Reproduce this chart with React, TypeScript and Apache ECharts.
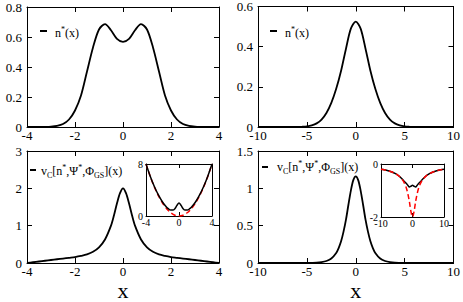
import React, { useEffect, useRef } from "react";
import * as echarts from "echarts";

const FONT = "'Liberation Serif', 'Times New Roman', Times, serif";

// Top-left: n*(x)
const tlX = [-4, -3.75, -3.5, -3.25, -3, -2.75, -2.5, -2.25, -2, -1.75, -1.5, -1.25, -1, -0.75, -0.5, -0.25, 0, 0.25, 0.5, 0.75, 1, 1.25, 1.5, 1.75, 2, 2.25, 2.5, 2.75, 3, 3.25, 3.5, 3.75, 4];
const tlN = [0, 0, 0, 0.001, 0.003, 0.008, 0.02, 0.05, 0.11, 0.21, 0.37, 0.53, 0.65, 0.686, 0.645, 0.588, 0.568, 0.588, 0.645, 0.686, 0.65, 0.53, 0.37, 0.21, 0.11, 0.05, 0.02, 0.008, 0.003, 0.001, 0, 0, 0];

// Top-right: n*(x)
const trX = [-10, -8, -6.5, -6, -5.5, -5, -4.5, -4, -3.5, -3, -2.5, -2, -1.5, -1, -0.5, 0, 0.5, 1, 1.5, 2, 2.5, 3, 3.5, 4, 4.5, 5, 5.5, 6, 6.5, 8, 10];
const trN = [0, 0, 0, 0, 0.001, 0.003, 0.008, 0.018, 0.037, 0.07, 0.12, 0.19, 0.28, 0.39, 0.49, 0.525, 0.49, 0.39, 0.28, 0.19, 0.12, 0.07, 0.037, 0.018, 0.008, 0.003, 0.001, 0, 0, 0, 0];

// Bottom-left: v_C
const blX = [-4, -3.75, -3.5, -3.25, -3, -2.75, -2.5, -2.25, -2, -1.75, -1.5, -1.25, -1, -0.75, -0.5, -0.375, -0.25, -0.125, 0, 0.125, 0.25, 0.375, 0.5, 0.75, 1, 1.25, 1.5, 1.75, 2, 2.25, 2.5, 2.75, 3, 3.25, 3.5, 3.75, 4];
const blV = [0, 0.02, 0.04, 0.06, 0.08, 0.1, 0.12, 0.14, 0.16, 0.19, 0.23, 0.3, 0.42, 0.63, 1.0, 1.28, 1.6, 1.87, 2.0, 1.87, 1.6, 1.28, 1.0, 0.63, 0.42, 0.3, 0.23, 0.19, 0.16, 0.14, 0.12, 0.1, 0.08, 0.06, 0.04, 0.02, 0];

// Bottom-left inset
const iblX = [-4, -3.5, -3, -2.5, -2, -1.5, -1.25, -1, -0.75, -0.5, -0.25, 0, 0.25, 0.5, 0.75, 1, 1.25, 1.5, 2, 2.5, 3, 3.5, 4];
const iblBlack = [8, 6.17, 4.58, 3.24, 2.16, 1.35, 1.08, 0.92, 0.91, 1.13, 1.63, 2.0, 1.63, 1.13, 0.91, 0.92, 1.08, 1.35, 2.16, 3.24, 4.58, 6.17, 8];
const iblRedX = [-4, -3.5, -3, -2.5, -2, -1.5, -1, -0.5, 0, 0.5, 1, 1.5, 2, 2.5, 3, 3.5, 4];
const iblRed = [8, 6.125, 4.5, 3.125, 2, 1.125, 0.5, 0.125, 0, 0.125, 0.5, 1.125, 2, 3.125, 4.5, 6.125, 8];

// Bottom-right: v_C
const brX = [-10, -8, -6, -5, -4, -3.5, -3, -2.5, -2, -1.75, -1.5, -1.25, -1, -0.75, -0.5, -0.25, 0, 0.25, 0.5, 0.75, 1, 1.25, 1.5, 1.75, 2, 2.5, 3, 3.5, 4, 5, 6, 8, 10];
const brV = [0, 0, 0, 0.001, 0.005, 0.012, 0.027, 0.06, 0.135, 0.2, 0.29, 0.42, 0.58, 0.78, 0.97, 1.11, 1.16, 1.11, 0.97, 0.78, 0.58, 0.42, 0.29, 0.2, 0.135, 0.06, 0.027, 0.012, 0.005, 0.001, 0, 0, 0];

// Bottom-right inset
const ibrX = [-10, -9, -8, -7, -6, -5, -4, -3, -2.5, -2, -1.5, -1, -0.5, 0, 0.5, 1, 1.5, 2, 2.5, 3, 4, 5, 6, 7, 8, 9, 10];
const ibrRed = [-0.2, -0.22, -0.248, -0.283, -0.33, -0.39, -0.485, -0.63, -0.74, -0.89, -1.11, -1.41, -1.79, -2, -1.79, -1.41, -1.11, -0.89, -0.74, -0.63, -0.485, -0.39, -0.33, -0.283, -0.248, -0.22, -0.2];
const ibrBlack = [-0.2, -0.22, -0.248, -0.283, -0.33, -0.39, -0.48, -0.6, -0.67, -0.73, -0.8, -0.87, -0.84, -0.8, -0.84, -0.87, -0.8, -0.73, -0.67, -0.6, -0.48, -0.39, -0.33, -0.283, -0.248, -0.22, -0.2];

const grids = [
  { left: 27, top: 7, width: 192, height: 120 },
  { left: 258, top: 6, width: 196, height: 121 },
  { left: 27, top: 151, width: 192, height: 120 },
  { left: 258, top: 151, width: 196, height: 120 },
  { left: 146, top: 164, width: 66, height: 52, show: true, backgroundColor: "#fff", borderWidth: 0 },
  { left: 381, top: 164, width: 63, height: 53, show: true, backgroundColor: "#fff", borderWidth: 0 },
];

function axisBase(grid: number, min: number, max: number, interval: number, fs: number, len: number, margin: number) {
  return {
    type: "value",
    gridIndex: grid,
    min,
    max,
    interval,
    axisLine: { show: true, onZero: false, lineStyle: { color: "#000", width: 1 } },
    axisTick: { show: true, inside: true, length: len, lineStyle: { color: "#000", width: 1 } },
    splitLine: { show: false },
    axisLabel: { color: "#000", fontFamily: FONT, fontSize: fs, margin },
  };
}

function xPair(grid: number, min: number, max: number, interval: number, fs: number, len: number, margin: number, extra: any = {}) {
  const b = axisBase(grid, min, max, interval, fs, len, margin);
  return [
    { ...b, position: "bottom", ...extra },
    { ...b, position: "top", axisLabel: { show: false } },
  ];
}
function yPair(grid: number, min: number, max: number, interval: number, fs: number, len: number, margin: number) {
  const b = axisBase(grid, min, max, interval, fs, len, margin);
  return [
    { ...b, position: "left" },
    { ...b, position: "right", axisLabel: { show: false } },
  ];
}

const xName = {
  name: "x",
  nameLocation: "middle",
  nameGap: 16,
  nameTextStyle: { fontFamily: FONT, fontSize: 22, color: "#000" },
};

const pts = (xs: number[], ys: number[]) => xs.map((x, i) => [x, ys[i]]);

function line(g: number, xs: number[], ys: number[], color = "#000", width = 1.8, dashed = false) {
  return {
    type: "line",
    xAxisIndex: 2 * g,
    yAxisIndex: 2 * g,
    data: pts(xs, ys),
    showSymbol: false,
    smooth: 0.3,
    silent: true,
    lineStyle: { color, width, type: dashed ? [5, 3] : "solid" },
  };
}

const richStyle = {
  m: { fontSize: 12, fontFamily: FONT, lineHeight: 16, verticalAlign: "middle", fill: "#000", color: "#000" },
  sup: { fontSize: 8, fontFamily: FONT, lineHeight: 8, verticalAlign: "top", fill: "#000", color: "#000" },
  sub: { fontSize: 8, fontFamily: FONT, lineHeight: 8, verticalAlign: "bottom", fill: "#000", color: "#000" },
};

const nText = "{m|n}{sup|*}{m|(x)}";
const vText = "{m|v}{sub|C}{m|[n}{sup|*}{m|,Ψ}{sup|*}{m|,Φ}{sub|GS}{m|](x)}";

function legend(x1: number, x2: number, y: number, tx: number, ty: number, text: string) {
  return [
    { type: "line", shape: { x1, y1: y, x2, y2: y }, style: { stroke: "#000", lineWidth: 2 }, silent: true },
    {
      type: "text",
      x: tx,
      y: ty,
      style: { text, rich: richStyle, fontFamily: FONT, verticalAlign: "middle", align: "left" },
      silent: true,
    },
  ];
}

const option: any = {
  animation: false,
  backgroundColor: "#fff",
  textStyle: { fontFamily: FONT },
  grid: grids,
  xAxis: [
    ...xPair(0, -4, 4, 2, 13, 5, 2),
    ...xPair(1, -10, 10, 5, 13, 5, 2),
    ...xPair(2, -4, 4, 2, 13, 5, 2, xName),
    ...xPair(3, -10, 10, 5, 13, 5, 2, xName),
    ...xPair(4, -4, 4, 4, 10, 4, 1),
    ...xPair(5, -10, 10, 10, 10, 4, 1),
  ],
  yAxis: [
    ...yPair(0, 0, 0.8, 0.2, 13, 5, 5),
    ...yPair(1, 0, 0.6, 0.2, 13, 5, 5),
    ...yPair(2, 0, 3, 1, 13, 5, 5),
    ...yPair(3, 0, 1.5, 0.5, 13, 5, 5),
    ...yPair(4, 0, 8, 8, 10, 4, 3),
    ...yPair(5, -2, 0, 2, 10, 4, 3),
  ],
  series: [
    line(0, tlX, tlN),
    line(1, trX, trN),
    line(2, blX, blV),
    line(3, brX, brV),
    line(4, iblRedX, iblRed, "#ff0000", 1.5, true),
    line(4, iblX, iblBlack, "#000", 1.5),
    line(5, ibrX, ibrBlack, "#000", 1.5),
    line(5, ibrX, ibrRed, "#ff0000", 1.5, true),
  ],
  graphic: [
    ...legend(40, 47, 31, 55, 33, nText),
    ...legend(270, 277, 31, 285, 33, nText),
    ...legend(30, 36, 170, 41, 171, vText),
    ...legend(262, 268, 167, 277, 167, vText),
  ],
};

export default function App() {
  const ref = useRef<HTMLDivElement>(null);
  useEffect(() => {
    const chart = echarts.init(ref.current!, null, { renderer: "svg" });
    chart.setOption(option);
    return () => chart.dispose();
  }, []);
  return (
    <div
      ref={ref}
      style={{ position: "absolute", left: 0, top: 0, width: 463, height: 302, background: "#fff" }}
    />
  );
}
